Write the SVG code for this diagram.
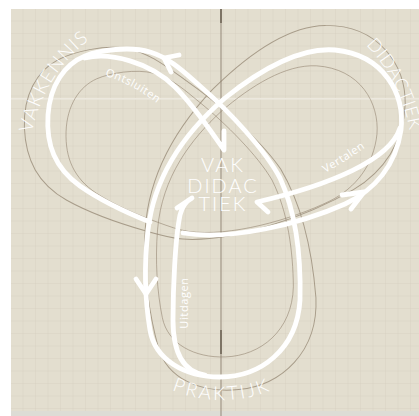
<svg xmlns="http://www.w3.org/2000/svg" width="419" height="416" viewBox="0 0 419 416">
<style>
.bg{fill:#e3decf}
.guide{fill:none;stroke:#8f806c;stroke-width:0.9;opacity:0.7}
.wl{fill:none;stroke:#ffffff;stroke-width:4.8;stroke-linecap:round;stroke-linejoin:round}
.big{font-family:Lato,"Open Sans","Liberation Sans",sans-serif;font-weight:300;fill:#ffffff;font-size:19px;letter-spacing:1px}
.mid{font-family:Lato,"Open Sans","Liberation Sans",sans-serif;font-weight:300;fill:#ffffff;font-size:20px;letter-spacing:2px;text-anchor:middle}
.small{font-family:"Open Sans",Lato,"Liberation Sans",sans-serif;fill:#ffffff;font-size:11px;letter-spacing:0.6px}
</style>
<defs>
<pattern id="grid" width="12.5" height="12.5" patternUnits="userSpaceOnUse" x="11" y="9">
<path d="M12.5 0V12.5M0 12.5H12.5" fill="none" stroke="#d6cfc0" stroke-width="0.8"/>
</pattern>
<path id="knot" d="M183,233 C230,241 300,224 345,204 C375,190 396,165 401,130 C405,95 385,55 335,50 C300,47 260,70 225,98 C190,128 155,170 148,230 C144,265 145,300 150,330 C155,360 185,377 220,377 C260,377 297,350 300,300 C301,260 297,215 280,178 C265,150 230,112 200,86 C185,73 170,58 150,52 C130,46 100,50 85,56 C65,64 50,85 48,115 C46,145 55,168 80,186 C100,200 125,212 150,222 C160,226 172,231 183,233Z"/>
<path id="arcV" d="M29.1,158.4 A156 156 0 0 1 111.1,25.6"/>
<path id="arcD" d="M338.2,22.1 A162 162 0 0 1 411.8,166.5"/>
<path id="arcP" d="M109.4,335 A130 130 0 0 0 334.6,335"/>
<path id="arcO" d="M98,74 Q132,82 163,108"/>
<path id="arcT" d="M312,180 Q345,163 378,138"/>
</defs>
<rect width="419" height="416" fill="#ffffff"/>
<rect class="bg" x="11" y="9" width="408" height="407"/>
<rect x="11" y="9" width="408" height="407" fill="url(#grid)"/>
<rect x="11" y="98" width="408" height="1.6" fill="#ece8de"/>
<rect x="11" y="411" width="408" height="5" fill="#dddcd5"/>
<line x1="221" y1="9" x2="221" y2="416" stroke="#8b7e6e" stroke-width="1.1" opacity="0.8"/>
<line x1="221" y1="9" x2="221" y2="23" stroke="#6f6456" stroke-width="1.6"/>
<line x1="221" y1="330" x2="221" y2="354" stroke="#6f6456" stroke-width="1.6"/>

<g id="guides">
<use href="#knot" class="guide" transform="translate(222 210) rotate(-6) scale(1.08) translate(-222 -210)"/>
<use href="#knot" class="guide" transform="translate(222 210) rotate(-2) scale(0.88) translate(-222 -210)"/>
</g>

<g id="connectors">
<path class="wl" d="M183,233 C230,241 300,224 345,204 C375,190 396,165 401,130 C405,95 385,55 335,50 C300,47 260,70 225,98 C190,128 155,170 148,230 C144,265 145,300 150,330 C155,360 185,377 220,377 C260,377 297,350 300,300 C301,260 297,215 280,178 C265,150 230,112 200,86 C185,73 170,58 150,52 C130,46 100,50 85,56 C65,64 50,85 48,115 C46,145 55,168 80,186 C100,200 125,212 150,222"/>
<path class="wl" d="M179,55 L164,58 L171,72"/>
<path class="wl" d="M342,195 L364,192 L351,209"/>
<path class="wl" d="M136,279 L146,294 L156,279"/>
<g id="ontsluiten">
<path class="wl" d="M85,58 C110,52 150,62 175,87 C195,107 210,130 224,150 L224,131"/>
<text class="small"><textPath href="#arcO" startOffset="50%" text-anchor="middle">Ontsluiten</textPath></text>
</g>
<g id="vertalen">
<path class="wl" d="M400,128 C390,160 330,185 257,202 L268,212"/>
<text class="small"><textPath href="#arcT" startOffset="50%" text-anchor="middle">Vertalen</textPath></text>
</g>
<g id="uitdagen">
<path class="wl" d="M205,375 C185,372 173,355 173,320 C173,290 175,240 180,215 C182,207 186,201 192,198 L177,208"/>
<text class="small" transform="translate(188 303) rotate(-90)" text-anchor="middle">Uitdagen</text>
</g>
</g>

<g id="vakkennis"><text class="big"><textPath href="#arcV" startOffset="50%" text-anchor="middle">VAKKENNIS</textPath></text></g>
<g id="didactiek"><text class="big" style="font-size:18px;letter-spacing:0.6px"><textPath href="#arcD" startOffset="50%" text-anchor="middle">DIDACTIEK</textPath></text></g>
<g id="praktijk"><text class="big" style="letter-spacing:2.5px"><textPath href="#arcP" startOffset="50%" text-anchor="middle">PRAKTIJK</textPath></text></g>
<g id="vakdidactiek">
<text class="mid" x="223" y="172">VAK</text>
<text class="mid" x="223" y="193">DIDAC</text>
<text class="mid" x="223" y="211">TIEK</text>
</g>
</svg>
